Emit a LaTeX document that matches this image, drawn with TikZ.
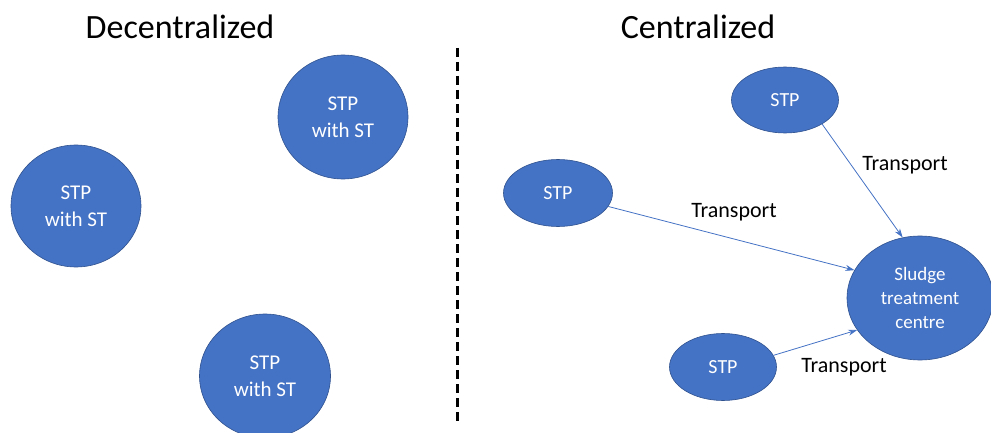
\documentclass[tikz,border=0pt]{standalone}
\usepackage{fontspec}
\setmainfont{Carlito}
\usetikzlibrary{shapes.geometric,arrows.meta}
\definecolor{officeblue}{HTML}{4472C4}
\definecolor{officeline}{HTML}{2F528F}
\begin{document}
\begin{tikzpicture}[x=1pt,y=-1pt]
        \useasboundingbox (0,0) rectangle (991,433);
        \node (dtitle) at (180,27) {\fontsize{34}{40}\selectfont Decentralized};
        \node (ctitle) at (698,27) {\fontsize{34}{40}\selectfont Centralized};
        \coordinate (ltop) at (457,48);
        \coordinate (lbot) at (457,423);
        \draw[line width=3pt,dash pattern=on 9pt off 5pt] (ltop) -- (lbot);
        \begin{scope}[every node/.style={ellipse,fill=officeblue,draw=officeline,line width=0.6pt,
            text=white,inner sep=0pt,align=center,font=\fontsize{21}{27}\selectfont}]
          \node[minimum width=130pt,minimum height=124pt] (d1) at (343,117) {STP\\with ST};
          \node[minimum width=130pt,minimum height=122pt] (d2) at (76,206) {STP\\with ST};
          \node[minimum width=131pt,minimum height=124pt] (d3) at (265,376) {STP\\with ST};
          \node[minimum width=107pt,minimum height=66pt,font=\fontsize{20}{23}\selectfont] (s1) at (785,100) {STP};
          \node[minimum width=109pt,minimum height=67pt,font=\fontsize{20}{23}\selectfont] (s2) at (558,193) {STP};
          \node[minimum width=107pt,minimum height=67pt,font=\fontsize{20}{23}\selectfont] (s3) at (723,367) {STP};
          \node[minimum width=146pt,minimum height=124pt,font=\fontsize{19}{24}\selectfont] (stc) at (920,298) {Sludge\\treatment\\centre};
        \end{scope}
      \begin{scope}[every edge/.style={draw=officeblue,line width=0.8pt,-{Stealth[length=9pt,width=6pt]}}]
        \path (s1.-33) edge (stc.106);
        \path (s2.-15) edge (stc.157);
        \path (s3.13) edge (stc.207);
      \end{scope}
      \begin{scope}[every node/.style={font=\fontsize{22}{26}\selectfont}]
        \node (t1) at (905,165) {Transport};
        \node (t2) at (734,212) {Transport};
        \node (t3) at (844,367) {Transport};
      \end{scope}
      \end{tikzpicture}
\end{document}
